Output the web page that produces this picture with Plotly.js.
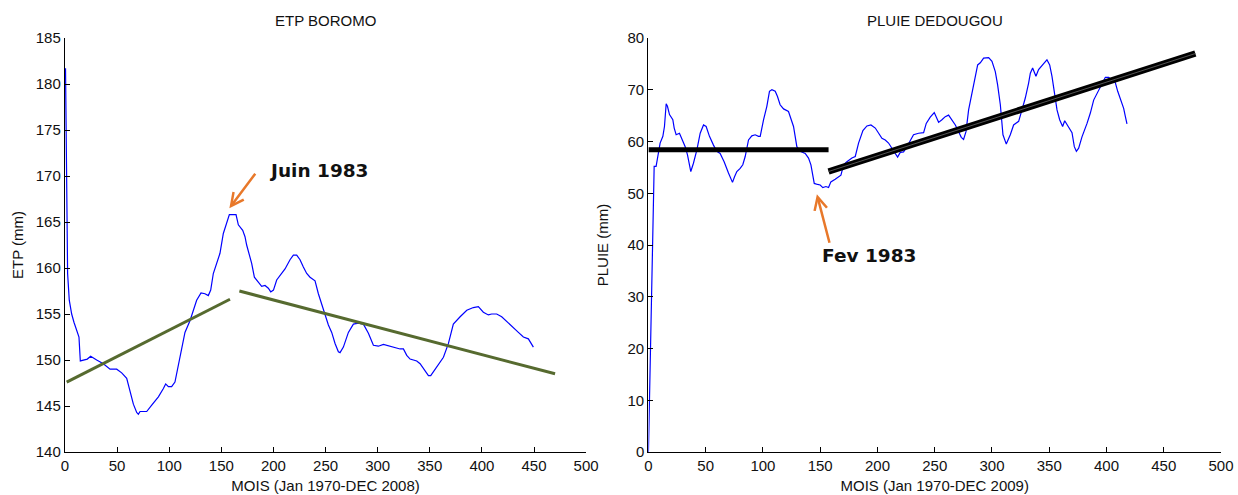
<!DOCTYPE html>
<html>
<head>
<meta charset="utf-8">
<script src="https://cdn.plot.ly/plotly-3.0.1.min.js"></script>
<style>html,body{margin:0;padding:0;background:#fff;}#chart{width:1238px;height:495px;}</style>
</head>
<body>
<div id="chart"></div>
<script>
// ETP BOROMO (left panel)
const etpMonths = [0.5, 1.6, 2.5, 4.1, 6.4, 8.6, 12.1, 13.4, 14.7, 17.6,
  21.4, 24.6, 27.2, 30.4, 36.8, 43.2, 49.6, 54.4, 59.2, 62.4,
  65.6, 68.8, 70.4, 72, 78.4, 83.2, 89.6, 94.4, 96.6, 99.2,
  102.3, 105.5, 108.7, 112, 115.1, 120, 123.1, 126.3, 130.5, 134.3,
  137.5, 139.8, 142.3, 145.5, 148.7, 151.9, 154.5, 156.7, 157.7, 164.1,
  165.4, 166.3, 170.5, 172.7, 174.3, 175.9, 179.1, 181.7, 185.5, 188.7,
  191.9, 195.1, 197.4, 200, 203.1, 206.3, 211.1, 215.9, 219.1, 222.3,
  225.5, 228.7, 231.9, 235.1, 239.9, 243.1, 246.3, 249.5, 252.7, 255.9,
  259.1, 262.3, 263.9, 267.1, 271.9, 276.7, 281.5, 286.3, 291.1, 295.9,
  300.7, 305.5, 311.9, 321.5, 324.7, 327.9, 331.1, 334.3, 337.5, 340.7,
  348.7, 350.9, 356.7, 363.1, 367.9, 372.6, 379.1, 385.5, 391.8, 396.6,
  401.4, 406.2, 409.4, 414.2, 419, 427, 435, 439.8, 444.6, 449.4];
const etpValues = [181.7, 163.0, 159.4, 156.5, 155.0, 154.1, 152.9, 152.5, 149.9, 150.0,
  150.1, 150.4, 150.2, 150.0, 149.6, 149.0, 149.0, 148.6, 148.0, 146.7,
  145.2, 144.3, 144.1, 144.4, 144.4, 145.1, 146.0, 146.9, 147.4, 147.1,
  147.1, 147.6, 149.4, 151.4, 153.0, 154.3, 155.4, 156.5, 157.3, 157.2,
  157.0, 157.6, 159.4, 160.5, 161.6, 163.75, 164.8, 165.6, 165.8, 165.8,
  165.2, 164.7, 164.1, 163.4, 162.5, 161.9, 160.5, 159.0, 158.5, 158.0,
  158.1, 157.8, 157.4, 157.6, 158.7, 159.2, 159.9, 160.9, 161.4, 161.4,
  160.9, 160.1, 159.4, 159.0, 158.6, 157.2, 156.0, 154.9, 153.8, 153.0,
  151.8, 150.9, 150.8, 151.4, 153.0, 153.9, 154.0, 153.9, 152.9, 151.6,
  151.5, 151.7, 151.5, 151.2, 151.2, 150.5, 150.1, 150.0, 149.9, 149.6,
  148.3, 148.3, 149.2, 150.3, 151.8, 153.9, 154.7, 155.4, 155.7, 155.8,
  155.2, 154.9, 155.0, 155.0, 154.7, 153.9, 153.0, 152.5, 152.3, 151.4];
const etpTrend1X = [1.6, 158.3];
const etpTrend1Y = [147.6, 156.6];
const etpTrend2X = [167.3, 470.2];
const etpTrend2Y = [157.5, 148.5];

// PLUIE DEDOUGOU (right panel)
const pluieMonths = [0, 1.5, 3, 3.8, 5, 6.7, 7.9, 10.2, 12.6, 14,
  15.5, 16.6, 18.4, 21.3, 22.5, 24.2, 27.1, 29.2, 32.1, 34.1,
  37, 39.3, 42.3, 45.2, 48.1, 50.4, 53.3, 56.8, 59.7, 62.6,
  66.1, 69.9, 73.4, 75.2, 77.2, 80.1, 82.4, 84.5, 87.4, 90.3,
  93.2, 96.1, 97.6, 100.5, 103.4, 105.7, 107.8, 110.7, 112.7, 115,
  118, 122.3, 124.4, 126.7, 129.6, 132.5, 136.9, 139.8, 141.9, 143.3,
  144.8, 147.7, 150, 152.3, 155, 157.3, 159.3, 163.1, 166, 168.1,
  170.4, 173.3, 177.7, 180.6, 183.5, 187.3, 190.8, 194.3, 198.1, 201,
  203.9, 206.8, 209.7, 212.6, 215.5, 217.6, 219.9, 222.8, 225.7, 231.5,
  235.9, 240.3, 242.6, 246.1, 249.6, 251.3, 253.4, 256.3, 259.2, 262.1,
  265, 268, 270.9, 273.2, 275.2, 277.3, 279.6, 282.5, 285.4, 287.5,
  289.8, 292.7, 297.1, 300, 302.9, 304.9, 307.3, 309.6, 312.5, 316,
  318.9, 323.3, 326.2, 329.1, 332, 333.5, 335.5, 338.4, 340.7, 343.7,
  345.7, 348, 350.4, 352.4, 354.4, 356.8, 359.1, 361.7, 363.5, 366.4,
  369.9, 371.9, 373.7, 375.7, 378.6, 383, 385.9, 388.8, 393.2, 396.1,
  399, 401.9, 404.8, 407.7, 409.8, 412.1, 415, 416.5, 417.9];
const pluieValues = [0, 15.2, 34.5, 41, 55.2, 55.2, 57.1, 59.7, 61.0, 62.9,
  67.3, 66.8, 65.2, 64.2, 62.6, 61.3, 61.6, 60.6, 59.0, 57.4,
  54.2, 55.8, 58.4, 61.6, 63.2, 62.9, 61.0, 59.3, 58.1, 57.7,
  56.1, 53.9, 52.1, 53.2, 54.2, 54.8, 55.5, 57.1, 60.3, 61.1,
  61.3, 61.0, 61.0, 64.2, 66.8, 69.7, 70.0, 69.7, 68.7, 67.1,
  66.3, 65.8, 64.5, 62.9, 59.0, 58.1, 57.7, 56.8, 55.5, 53.5,
  51.9, 51.7, 51.6, 51.1, 51.3, 51.1, 52.2, 52.7, 53.1, 53.5,
  55.5, 56.1, 56.8, 57.1, 59.7, 62.1, 63.0, 63.2, 62.6, 61.7,
  60.6, 60.3, 59.7, 58.7, 57.7, 57.0, 57.9, 58.0, 59.0, 61.3,
  61.6, 61.7, 63.5, 64.7, 65.6, 64.8, 63.7, 64.2, 64.8, 65.1,
  64.2, 63.2, 61.9, 60.8, 60.4, 61.9, 66.1, 69.3, 71.9, 74.8,
  75.2, 76.1, 76.2, 75.5, 73.5, 71.0, 67.1, 61.3, 59.5, 61.3,
  63.2, 63.9, 66.1, 68.4, 71.3, 73.2, 74.2, 72.6, 73.9, 74.8,
  75.2, 75.8, 74.8, 72.6, 69.7, 66.1, 64.2, 62.9, 64.0, 63.0,
  61.7, 59.0, 58.1, 58.7, 60.9, 63.5, 65.5, 68.0, 70.0, 71.3,
  72.4, 72.4, 71.9, 71.4, 69.7, 68.4, 66.4, 64.8, 63.4];
const pluieTrend1X = [0, 157.3];
const pluieTrend1Y = [58.4, 58.4];
const pluieTrend2X = [157.3, 477.6];
const pluieTrend2Y = [54.2, 77.0];

const xTicks = [0, 50, 100, 150, 200, 250, 300, 350, 400, 450, 500];
const etpTicks = [140, 145, 150, 155, 160, 165, 170, 175, 180, 185];
const pluieTicks = [0, 10, 20, 30, 40, 50, 60, 70, 80];

const FONT = 'Liberation Sans, Arial, sans-serif';
const ANNO_FONT = 'DejaVu Sans, sans-serif';
const BLUE = '#0000ff';
const OLIVE = '#566a2f';
const ORANGE = '#e8782a';

const traces = [
  {x: etpMonths, y: etpValues, type: 'scatter', mode: 'lines', line: {color: BLUE, width: 1.2}, xaxis: 'x', yaxis: 'y'},
  {x: etpTrend1X, y: etpTrend1Y, type: 'scatter', mode: 'lines', line: {color: OLIVE, width: 3}, xaxis: 'x', yaxis: 'y'},
  {x: etpTrend2X, y: etpTrend2Y, type: 'scatter', mode: 'lines', line: {color: OLIVE, width: 3}, xaxis: 'x', yaxis: 'y'},
  {x: pluieMonths, y: pluieValues, type: 'scatter', mode: 'lines', line: {color: BLUE, width: 1.2}, xaxis: 'x2', yaxis: 'y2'},
  {x: pluieTrend1X, y: pluieTrend1Y, type: 'scatter', mode: 'lines', line: {color: '#000', width: 5}, xaxis: 'x2', yaxis: 'y2'},
  {x: pluieTrend2X, y: pluieTrend2Y, type: 'scatter', mode: 'lines', line: {color: '#000', width: 6.5}, xaxis: 'x2', yaxis: 'y2'},
  {x: pluieTrend2X, y: pluieTrend2Y, type: 'scatter', mode: 'lines', line: {color: '#555', width: 1}, xaxis: 'x2', yaxis: 'y2'}
];

function xAxis(domain, title, anchor) {
  return {
    domain: domain, anchor: anchor, range: [0, 500], tickvals: xTicks,
    ticks: 'inside', ticklen: 5, tickcolor: '#000', showline: true, linecolor: '#000', linewidth: 1.2,
    showgrid: false, zeroline: false, mirror: false,
    tickfont: {family: FONT, size: 15, color: '#111'},
    title: {text: title, font: {family: FONT, size: 15, color: '#111'}, standoff: 7}
  };
}
function yAxis(range, ticks, title, anchor, standoff) {
  return {
    domain: [0, 1], anchor: anchor, range: range, tickvals: ticks,
    ticks: 'inside', ticklen: 5, tickcolor: '#000', showline: true, linecolor: '#000', linewidth: 1.2,
    showgrid: false, zeroline: false, mirror: false,
    tickfont: {family: FONT, size: 15, color: '#111'},
    title: {text: title, font: {family: FONT, size: 15, color: '#111'}, standoff: standoff}
  };
}

const layout = {
  width: 1238, height: 495,
  margin: {l: 65, r: 17.3, t: 38.3, b: 43.3},
  paper_bgcolor: '#fff', plot_bgcolor: '#fff',
  showlegend: false,
  xaxis: xAxis([0, 0.4508], 'MOIS (Jan 1970-DEC 2008)', 'y'),
  yaxis: yAxis([140, 185], etpTicks, 'ETP (mm)', 'x', 8),
  xaxis2: xAxis([0.5047, 1], 'MOIS (Jan 1970-DEC 2009)', 'y2'),
  yaxis2: yAxis([0, 80], pluieTicks, 'PLUIE (mm)', 'x2', 15),
  annotations: [
    {text: 'ETP BOROMO', xref: 'x domain', yref: 'paper', x: 0.5, y: 1, yshift: 18, xanchor: 'center', yanchor: 'middle', showarrow: false, font: {family: FONT, size: 15, color: '#111'}},
    {text: 'PLUIE DEDOUGOU', xref: 'x2 domain', yref: 'paper', x: 0.5, y: 1, yshift: 18, xanchor: 'center', yanchor: 'middle', showarrow: false, font: {family: FONT, size: 15, color: '#111'}},
    {text: '', xref: 'x', yref: 'y', x: 157.7, y: 166.5, ax: 27, ay: -36, showarrow: true, arrowhead: 5, arrowsize: 1, arrowwidth: 2.5, arrowcolor: ORANGE, standoff: 0},
    {text: '<b>Juin 1983</b>', xref: 'x', yref: 'y', x: 193.6, y: 170.6, xanchor: 'left', yanchor: 'middle', showarrow: false, font: {family: ANNO_FONT, size: 18.5, color: '#111'}},
    {text: '', xref: 'x2', yref: 'y2', x: 147.1, y: 49.8, ax: 13, ay: 50, showarrow: true, arrowhead: 5, arrowsize: 1, arrowwidth: 2.5, arrowcolor: ORANGE, standoff: 0},
    {text: '<b>Fev 1983</b>', xref: 'x2', yref: 'y2', x: 150.0, y: 38.0, xanchor: 'left', yanchor: 'middle', showarrow: false, font: {family: ANNO_FONT, size: 18.5, color: '#111'}}
  ]
};

Plotly.newPlot('chart', traces, layout, {staticPlot: true, displayModeBar: false});
</script>
</body>
</html>
